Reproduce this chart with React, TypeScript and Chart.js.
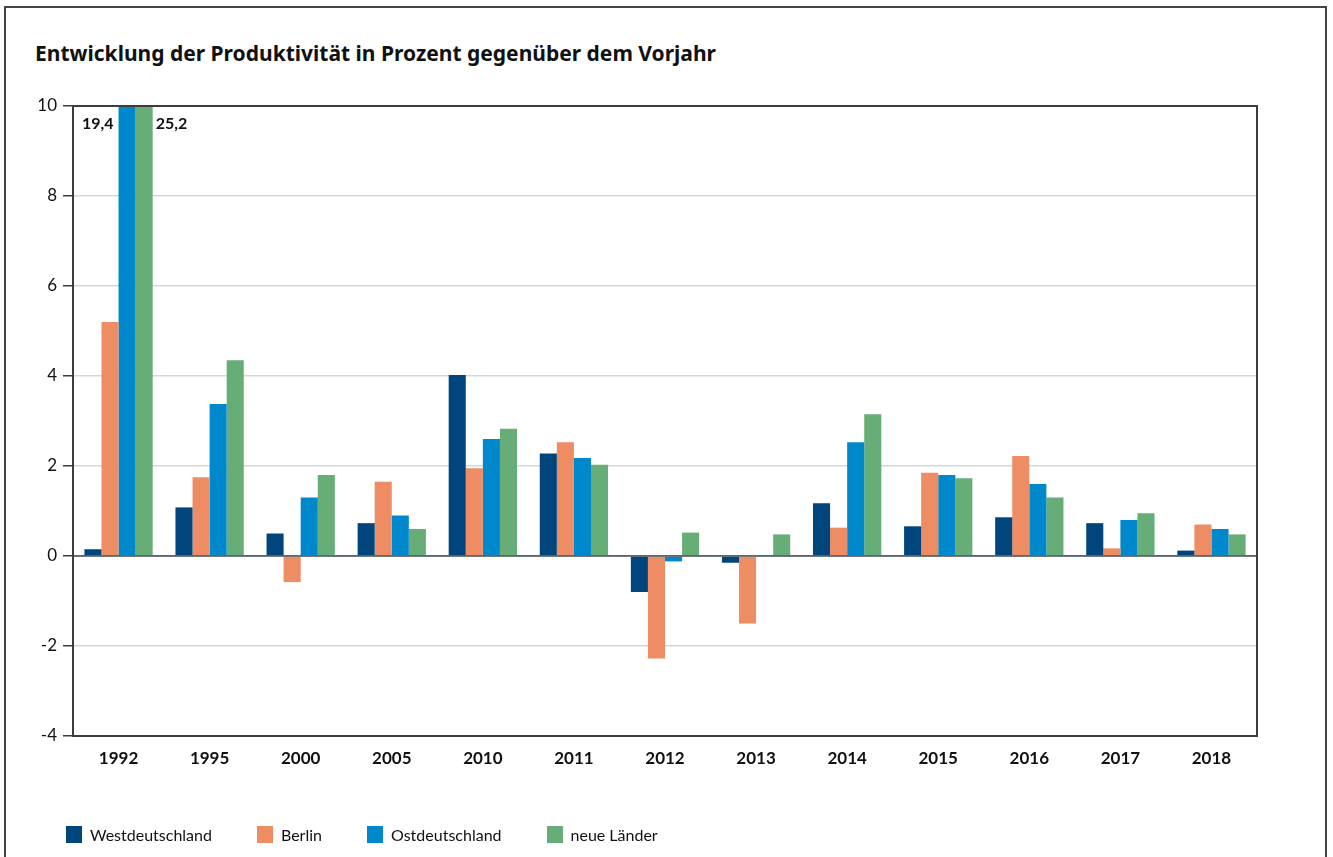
import React, { useEffect, useRef } from "react";
import { Chart, registerables } from "chart.js";

Chart.register(...registerables);

const title = "Entwicklung der Produktivität in Prozent gegenüber dem Vorjahr";
const years = ["1992", "1995", "2000", "2005", "2010", "2011", "2012", "2013", "2014", "2015", "2016", "2017", "2018"];
const westdeutschland = [0.15, 1.08, 0.5, 0.73, 4.02, 2.28, -0.8, -0.15, 1.17, 0.66, 0.86, 0.73, 0.12];
const berlin = [5.2, 1.75, -0.58, 1.65, 1.95, 2.53, -2.28, -1.5, 0.63, 1.85, 2.22, 0.17, 0.7];
const ostdeutschland = [19.4, 3.38, 1.3, 0.9, 2.6, 2.18, -0.12, 0, 2.53, 1.8, 1.6, 0.8, 0.6];
const neueLaender = [25.2, 4.35, 1.8, 0.6, 2.83, 2.03, 0.52, 0.48, 3.15, 1.73, 1.3, 0.95, 0.48];
const seriesNames = ["Westdeutschland", "Berlin", "Ostdeutschland", "neue Länder"];
const seriesColors = ["#00467c", "#ee8c64", "#0088cc", "#67ad77"];
const yMin = -4;
const yMax = 10;
const yStep = 2;

const FONT = "Lato, 'Noto Sans', sans-serif";
const TITLE_FONT = "'Noto Sans', Lato, sans-serif";

const fmt = (v: number) => v.toFixed(1).replace(".", ",");

const overflowPlugin = {
  id: "overflowLabels",
  afterDatasetsDraw(chart: any) {
    const { ctx, chartArea, scales } = chart;
    const y0 = scales.y.getPixelForValue(0);
    ctx.save();
    ctx.strokeStyle = "#5b6670";
    ctx.lineWidth = 1.5;
    ctx.beginPath();
    ctx.moveTo(chartArea.left, y0);
    ctx.lineTo(chartArea.right, y0);
    ctx.stroke();
    ctx.font = `bold 16px ${FONT}`;
    ctx.fillStyle = "#111";
    ctx.textBaseline = "middle";
    chart.data.datasets.forEach((ds: any, di: number) => {
      const meta = chart.getDatasetMeta(di);
      ds.data.forEach((v: number, i: number) => {
        if (v > yMax) {
          const el = meta.data[i];
          const half = el.width / 2;
          const ty = chartArea.top + 18;
          if (di === 2) {
            ctx.textAlign = "right";
            ctx.fillText(fmt(v), el.x - half - 5, ty);
          } else {
            ctx.textAlign = "left";
            ctx.fillText(fmt(v), el.x + half + 3, ty);
          }
        }
      });
    });
    ctx.restore();
  },
  afterDraw(chart: any) {
    const { ctx, chartArea } = chart;
    ctx.save();
    ctx.strokeStyle = "#3c3c3c";
    ctx.lineWidth = 2;
    ctx.strokeRect(chartArea.left, chartArea.top, chartArea.right - chartArea.left, chartArea.bottom - chartArea.top);
    ctx.restore();
  },
};

export default function App() {
  const ref = useRef<HTMLCanvasElement>(null);

  useEffect(() => {
    if (!ref.current) return;
    const allSeries = [westdeutschland, berlin, ostdeutschland, neueLaender];
    const chart = new Chart(ref.current, {
      type: "bar",
      data: {
        labels: years,
        datasets: allSeries.map((d, i) => ({
          label: seriesNames[i],
          data: d,
          backgroundColor: seriesColors[i],
          borderWidth: 0,
          categoryPercentage: 0.75,
          barPercentage: 1.0,
        })),
      },
      options: {
        responsive: false,
        animation: false,
        devicePixelRatio: 1,
        layout: { padding: { left: 0, right: 76, top: 106, bottom: 81 } },
        plugins: {
          legend: { display: false },
          title: { display: false },
          tooltip: { enabled: false },
        },
        scales: {
          x: {
            afterFit: (s: any) => {
              s.height = 40;
            },
            grid: { display: false },
            border: { display: true, color: "#3c3c3c", width: 2 },
            ticks: {
              color: "#111",
              font: { family: FONT, size: 17, weight: "bold" },
              padding: 4,
              maxRotation: 0,
            },
          },
          y: {
            min: yMin,
            max: yMax,
            afterFit: (s: any) => {
              s.width = 73;
            },
            grid: {
              color: (c: any) => (c.tick && c.tick.value === 0 ? "#5b6670" : "#d3d7da"),
              lineWidth: 1.5,
              tickColor: "#3c3c3c",
              tickLength: 10,
              drawTicks: true,
            },
            border: { display: true, color: "#3c3c3c", width: 2 },
            ticks: {
              stepSize: yStep,
              color: "#111",
              font: { family: FONT, size: 17 },
              padding: 6,
            },
          },
        },
      },
      plugins: [overflowPlugin],
    });
    return () => chart.destroy();
  }, []);

  return (
    <div
      style={{
        position: "absolute",
        left: 0,
        top: 0,
        width: 1333,
        height: 857,
        overflow: "hidden",
        background: "#fff",
        fontFamily: FONT,
      }}
    >
      <div
        style={{
          position: "absolute",
          left: 4,
          top: 6,
          width: 1323,
          height: 900,
          boxSizing: "border-box",
          border: "2px solid #444",
        }}
      />
      <div
        style={{
          position: "absolute",
          left: 35,
          top: 40,
          fontFamily: TITLE_FONT,
          fontSize: 21,
          fontWeight: "bold",
          color: "#111",
          whiteSpace: "nowrap",
          lineHeight: "26px",
        }}
      >
        {title}
      </div>
      <canvas ref={ref} width={1333} height={857} style={{ position: "absolute", left: 0, top: 0 }} />
      <div
        style={{
          position: "absolute",
          left: 66,
          top: 826,
          display: "flex",
          alignItems: "center",
          gap: 45,
          fontSize: 16,
          color: "#111",
        }}
      >
        {seriesNames.map((n, i) => (
          <div key={n} style={{ display: "flex", alignItems: "center" }}>
            <span style={{ display: "inline-block", width: 16, height: 17, background: seriesColors[i], marginRight: 8 }} />
            <span style={{ lineHeight: "17px" }}>{n}</span>
          </div>
        ))}
      </div>
    </div>
  );
}
